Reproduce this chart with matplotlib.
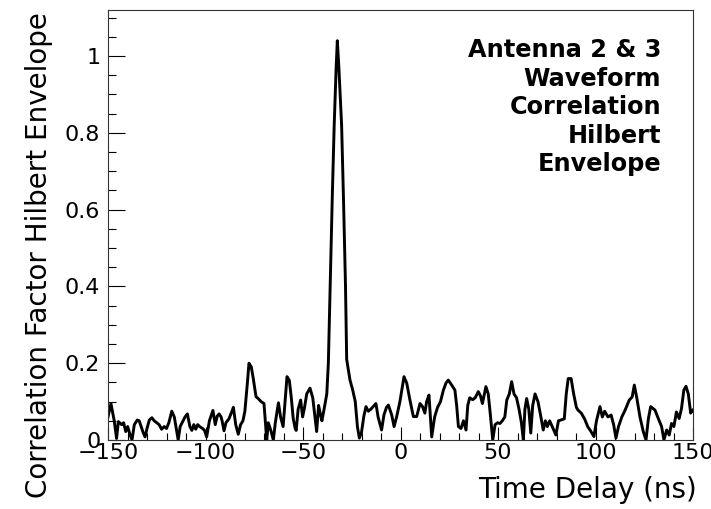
import matplotlib
matplotlib.use("Agg")
import matplotlib.pyplot as plt
from matplotlib.ticker import MultipleLocator, FixedLocator

# ---- data ----
time_ns = [
    -150, -148.5, -146.8, -145.6, -144.7, -143, -142, -140.9, -139.9, -138.8,
    -137.7, -136.5, -135, -134, -133, -132, -131, -130, -128.8, -127.5,
    -126.3, -125, -123.8, -122.5, -121.2, -120, -118.8, -117.3, -116, -115,
    -114, -113, -112, -110.5, -109.3, -108, -107, -106, -105, -104,
    -103, -101.5, -100.5, -99.4, -98, -96.2, -95, -94, -93, -92,
    -91.5, -90.5, -89.5, -88, -86.8, -85.7, -84.5, -83.2, -82, -80.8,
    -79.8, -78.5, -77.7, -76.5, -75.5, -74.1, -73, -71.5, -70, -69.2,
    -68.6, -67.8, -66.5, -65.2, -64.2, -62.6, -61.5, -60.2, -59.2, -58.2,
    -57, -56, -55, -54, -53.5, -52.5, -51.2, -50.2, -49.2, -48.1,
    -46.4, -45, -43.5, -43, -42, -41, -40.3, -39.2, -37.8, -37,
    -36, -35, -34, -33, -32.4, -31.6, -30.2, -29.2, -28.2, -27.6,
    -25.9, -24.5, -23.2, -22.1, -21.1, -20, -18.8, -17.7, -16.5, -15.3,
    -14, -12.6, -11.5, -9.7, -8.5, -7.2, -6.2, -4.5, -3.3, -2,
    -0.3, 1.8, 3.2, 4.8, 6.6, 8.3, 10, 11.3, 12.5, 13.4,
    14.6, 16, 17.5, 19, 20.5, 22, 23.3, 24.5, 26, 27.9,
    28.8, 29.7, 31, 32.3, 33.6, 34.5, 35.5, 37, 38.3, 39.9,
    41, 42, 43, 43.8, 45, 46, 47.3, 48.5, 49.8, 51,
    52.2, 53.5, 54.5, 55.8, 57, 58.2, 59.5, 60.8, 62, 63,
    63.8, 64.7, 65.8, 66.8, 67.8, 69, 70.5, 72, 73.2, 74.3,
    75.3, 76.5, 77.8, 79.7, 81, 82.7, 84, 85, 86, 87.5,
    88.8, 90.2, 91, 92.7, 94.4, 96, 97.7, 99.2, 100.5, 102.3,
    103.5, 104.7, 106.4, 108, 109.3, 110.5, 111.8, 113.5, 115.2, 117.3,
    118.8, 119.9, 121.1, 122.8, 124.5, 125.9, 127.1, 128.3, 130.5, 132.2,
    133.9, 135.1, 136.5, 137.8, 139, 140.2, 141.5, 142.9, 144.1, 145.3,
    146.4, 147.6, 148.8, 150,
]
correlation = [
    0.06, 0.095, 0.05, 0.004, 0.048, 0.04, 0.045, 0.022, 0.035, 0.015,
    0.0, 0.04, 0.052, 0.05, 0.035, 0.02, 0.008, 0.03, 0.052, 0.058,
    0.05, 0.045, 0.04, 0.028, 0.035, 0.03, 0.045, 0.075, 0.06, 0.03,
    0.0, 0.035, 0.045, 0.06, 0.068, 0.035, 0.025, 0.04, 0.028, 0.04,
    0.035, 0.03, 0.025, 0.008, 0.05, 0.077, 0.04, 0.062, 0.068, 0.06,
    0.05, 0.024, 0.045, 0.055, 0.07, 0.085, 0.04, 0.015, 0.04, 0.05,
    0.075, 0.15, 0.2, 0.19, 0.16, 0.113, 0.108, 0.1, 0.095, 0.04,
    0.0, 0.045, 0.025, 0.0, 0.045, 0.097, 0.06, 0.035, 0.1, 0.165,
    0.155, 0.11, 0.055, 0.03, 0.025, 0.08, 0.104, 0.06, 0.085, 0.12,
    0.135, 0.11, 0.045, 0.022, 0.09, 0.065, 0.05, 0.08, 0.12, 0.2,
    0.42, 0.63, 0.82, 0.97, 1.04, 0.97, 0.82, 0.62, 0.4, 0.21,
    0.156, 0.13, 0.1, 0.035, 0.005, 0.02, 0.062, 0.087, 0.075, 0.08,
    0.087, 0.095, 0.06, 0.026, 0.065, 0.085, 0.091, 0.065, 0.035, 0.06,
    0.1, 0.165, 0.148, 0.105, 0.061, 0.061, 0.095, 0.087, 0.07, 0.1,
    0.117, 0.008, 0.06, 0.085, 0.1, 0.13, 0.148, 0.156, 0.145, 0.13,
    0.09, 0.035, 0.03, 0.05, 0.026, 0.09, 0.11, 0.105, 0.11, 0.126,
    0.115, 0.095, 0.12, 0.139, 0.12, 0.07, 0.0, 0.04, 0.045, 0.043,
    0.05, 0.06, 0.104, 0.12, 0.152, 0.12, 0.11, 0.08, 0.045, 0.0,
    0.08, 0.108, 0.08, 0.018, 0.09, 0.12, 0.1, 0.06, 0.026, 0.05,
    0.035, 0.05, 0.035, 0.013, 0.05, 0.053, 0.055, 0.12, 0.16, 0.16,
    0.12, 0.085, 0.078, 0.07, 0.055, 0.035, 0.022, 0.009, 0.05, 0.087,
    0.06, 0.075, 0.06, 0.065, 0.04, 0.005, 0.035, 0.06, 0.078, 0.104,
    0.112, 0.143, 0.112, 0.06, 0.022, 0.0, 0.055, 0.087, 0.078, 0.056,
    0.035, 0.0, 0.026, 0.013, 0.043, 0.035, 0.073, 0.056, 0.082, 0.13,
    0.14, 0.12, 0.07, 0.078,
]
x_ticks = [-150, -100, -50, 0, 50, 100, 150]
y_ticks = [0, 0.2, 0.4, 0.6, 0.8, 1.0]
y_tick_labels = ["0", "0.2", "0.4", "0.6", "0.8", "1"]
annotation_lines = ["Antenna 2 & 3", "Waveform", "Correlation", "Hilbert", "Envelope"]
x_title = "Time Delay (ns)"
y_title = "Correlation Factor Hilbert Envelope"

W, H = 711, 509
fig = plt.figure(figsize=(W / 100, H / 100), dpi=100)
ax = fig.add_axes([108 / W, 1 - 440 / H, (693 - 108) / W, (440 - 10) / H])

ax.plot(time_ns, correlation, color="black", lw=2.1, solid_joinstyle="round")

ax.set_xlim(-150, 150)
ax.set_ylim(0, 1.12)

ax.xaxis.set_major_locator(FixedLocator(x_ticks))
ax.xaxis.set_minor_locator(MultipleLocator(10))
ax.yaxis.set_major_locator(FixedLocator(y_ticks))
ax.yaxis.set_minor_locator(MultipleLocator(0.05))
ax.set_yticklabels(y_tick_labels)

ax.tick_params(axis="both", which="both", direction="in", top=False, right=False,
               width=0.8, colors="black", labelsize=16)
ax.tick_params(axis="x", which="major", length=9.5, pad=2)
ax.tick_params(axis="x", which="minor", length=4.7)
ax.tick_params(axis="y", which="major", length=12.5, pad=5.5)
ax.tick_params(axis="y", which="minor", length=6)

for sp in ax.spines.values():
    sp.set_linewidth(0.8)
    sp.set_color("#333333")

for lbl in ax.get_xticklabels() + ax.get_yticklabels():
    lbl.set_family("DejaVu Sans")

fig.text(697 / W, 1 - 476 / H, x_title, ha="right", va="top", fontsize=20,
         family="DejaVu Sans")
fig.text(39.5 / W, 1 - 12 / H, y_title, ha="center", va="top", rotation=90,
         fontsize=20, family="DejaVu Sans")

baselines_px = [57.3, 86, 114.3, 142.7, 171.2]
for line, bpx in zip(annotation_lines, baselines_px):
    ax.text((661 - 108) / 585, (440 - bpx) / 430, line, transform=ax.transAxes,
            ha="right", va="baseline", fontsize=17.3, fontweight="bold",
            family="DejaVu Sans")

fig.savefig("out.png", dpi=100)
